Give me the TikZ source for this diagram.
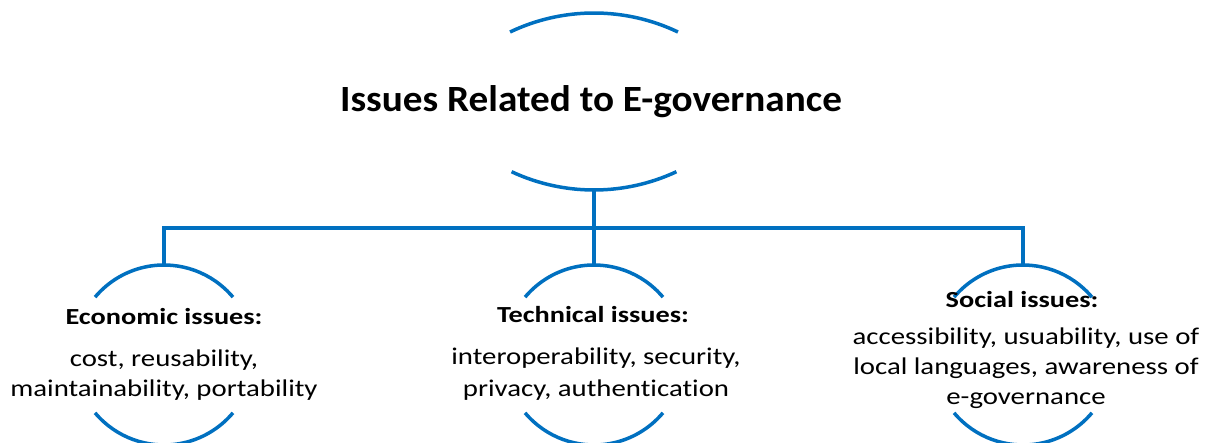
\documentclass[tikz,border=0pt]{standalone}
\usepackage{fontspec}
\setmainfont{Carlito}
\newfontfamily\titlefont[FakeStretch=1.06,Ligatures=NoCommon]{Carlito}
\newfontfamily\headfont[FakeStretch=1.23,Ligatures=NoCommon]{Carlito}
\newfontfamily\bodyfont[FakeStretch=1.2,Ligatures=NoCommon]{Carlito}
\begin{document}
\begin{tikzpicture}[x=1pt,y=1pt,
  blueline/.style={draw=lineblue,line width=3.5pt},
  titletext/.style={anchor=base,inner sep=0pt,font=\titlefont\fontsize{37}{44}\selectfont\bfseries},
  headtext/.style={anchor=base,inner sep=0pt,font=\headfont\fontsize{23}{28}\selectfont\bfseries},
  bodytext/.style={anchor=base,inner sep=0pt,font=\bodyfont\fontsize{24}{29}\selectfont}]
\definecolor{lineblue}{HTML}{0070C0}
\useasboundingbox (0,0) rectangle (1208,443);
% title
\node[titletext] (title) at (591,331) {Issues Related to E-governance};
\draw[blueline] (594,235) ++(115.5:195) arc[start angle=115.5,end angle=64.5,radius=195];
\draw[blueline] (594,448) ++(245:195) arc[start angle=245,end angle=295,radius=195];
\coordinate (titleB) at (594,253);
% sub-topic circles
\foreach \n/\cx in {econ/164,tech/594,soc/1023}{
  \coordinate (\n C) at (\cx,88);
  \coordinate (\n Top) at (\cx,178);
  \draw[blueline] (\n C) ++(40:90) arc[start angle=40,end angle=140,radius=90];
  \draw[blueline] (\n C) ++(220:90) arc[start angle=220,end angle=320,radius=90];
}
% connectors
\coordinate (bus) at (594,215);
\draw[blueline] (titleB) -- (techTop);
\draw[blueline,line join=miter] (econTop) -- (econTop|-bus) -- (socTop|-bus) -- (socTop);
% texts
\node[headtext] (econH) at (164,118) {Economic issues:};
\node[bodytext] (econB1) at (164,76) {cost, reusability,};
\node[bodytext] (econB2) at (164,46) {maintainability, portability};
\node[headtext] (techH) at (593,120) {Technical issues:};
\node[bodytext] (techB1) at (596,78) {interoperability, security,};
\node[bodytext] (techB2) at (596,46) {privacy, authentication};
\node[headtext] (socH) at (1022,135) {Social issues:};
\node[bodytext] (socB1) at (1026,98) {accessibility, usuability, use of};
\node[bodytext] (socB2) at (1026,68) {local languages, awareness of};
\node[bodytext] (socB3) at (1026,38) {e-governance};
\end{tikzpicture}
\end{document}
